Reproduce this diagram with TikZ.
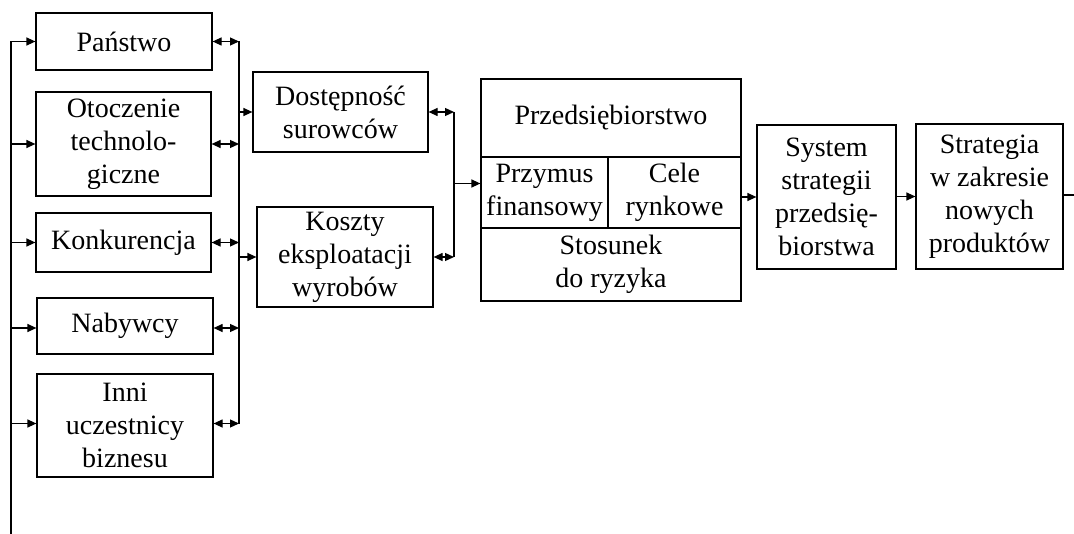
\documentclass[tikz,border=0pt]{standalone}
\usepackage{fontspec}
\setmainfont{Liberation Serif}
\usepackage{tikz}
\usetikzlibrary{arrows.meta, positioning}

\begin{document}
\begin{tikzpicture}[x=0.5pt,y=-0.5pt,line width=0.6pt]
            \tikzstyle{box}  = [draw, align=center, inner sep=0pt, font=\fontsize{14}{16.5}\selectfont]
            \tikzstyle{tip}  = [-{Triangle[length=4.5pt,width=4pt]}]
            \tikzstyle{both} = [{Triangle[length=4.5pt,width=4pt]}-{Triangle[length=4.5pt,width=4pt]}]

            \useasboundingbox (0,0) rectangle (1074,534);

            % Otoczenie .........................
            \node[box, minimum width=88pt,   minimum height=28.5pt] (panstwo)     at (124,41.5)  {Państwo};
            \node[box, minimum width=87.5pt, minimum height=52pt]   (otoczenie)   at (123.5,144) {Otoczenie\\technolo-\\giczne};
            \node[box, minimum width=87.5pt, minimum height=29.5pt] (konkurencja) at (123.5,242.5) {Konkurencja};
            \node[box, minimum width=88pt,   minimum height=28pt]   (nabywcy)     at (125,326)   {Nabywcy};
            \node[box, minimum width=88pt,   minimum height=51.5pt] (inni)        at (125,425.5) {Inni\\uczestnicy\\biznesu};

            \node[box, minimum width=87.5pt, minimum height=40pt]   (surowce)     at (340.5,112) {Dostępność\\surowców};
            \node[box, minimum width=88pt,   minimum height=50pt]   (koszty)      at (345,257)   {Koszty\\eksploatacji\\wyrobów};

            % Przedsiebiorstwo .........................
            \node[box, minimum width=130pt,  minimum height=39pt]   (firma)       at (611,118)   {Przedsiębiorstwo};
            \node[box, minimum width=63.5pt, minimum height=35.5pt] (przymus)     at (544.5,192.5) {Przymus\\finansowy};
            \node[box, minimum width=66.5pt, minimum height=35.5pt] (cele)        at (674.5,192.5) {Cele\\rynkowe};
            \node[box, minimum width=130pt,  minimum height=36.5pt] (ryzyko)      at (611,264.5) {Stosunek\\do ryzyka};

            \node[box, minimum width=69.5pt, minimum height=72pt]   (system)      at (826.5,197) {System\\strategii\\przedsię-\\biorstwa};
            \node[box, minimum width=73.5pt, minimum height=72.5pt] (strategia)   at (989.5,196.5) {Strategia\\w zakresie\\nowych\\produktów};

            \coordinate (lbus) at (11,534);
            \coordinate (rbus) at (239,0);
            \coordinate (mbus) at (454,0);
            \coordinate (out)  at (1074,195);

            % left bus
            \draw[tip] (lbus) |- (panstwo.west);
            \draw[tip] (lbus |- otoczenie.west) -- (otoczenie.west);
            \draw[tip] (lbus |- konkurencja.west) -- (konkurencja.west);
            \draw[tip] ([yshift=-1pt]lbus |- nabywcy.west) -- ([yshift=-1pt]nabywcy.west);
            \draw[tip] ([yshift=1pt]lbus |- inni.west) -- ([yshift=1pt]inni.west);

            % right bus
            \draw (rbus |- panstwo.east) -- ([yshift=1pt]rbus |- inni.east);
            \draw[both] (panstwo.east) -- (rbus |- panstwo.east);
            \draw[both] (otoczenie.east) -- (rbus |- otoczenie.east);
            \draw[both] (konkurencja.east) -- (rbus |- konkurencja.east);
            \draw[both] ([yshift=-1pt]nabywcy.east) -- ([yshift=-1pt]rbus |- nabywcy.east);
            \draw[both] ([yshift=1pt]inni.east) -- ([yshift=1pt]rbus |- inni.east);
            \draw[tip] (rbus |- surowce.west) -- (surowce.west);
            \draw[tip] (rbus |- koszty.west) -- (koszty.west);

            % middle bus
            \draw (mbus |- surowce.east) -- (mbus |- koszty.east);
            \draw[both] (surowce.east) -- (mbus |- surowce.east);
            \draw[both] (koszty.east) -- (mbus |- koszty.east);
            \draw[tip] ([yshift=4.5pt]mbus |- przymus.west) -- ([yshift=4.5pt]przymus.west);

            \draw[tip] (cele.east |- system.west) -- (system.west);
            \draw[tip] (system.east |- strategia.west) -- (strategia.west);
            \draw (strategia.east |- out) -- (out);

        \end{tikzpicture}
\end{document}
